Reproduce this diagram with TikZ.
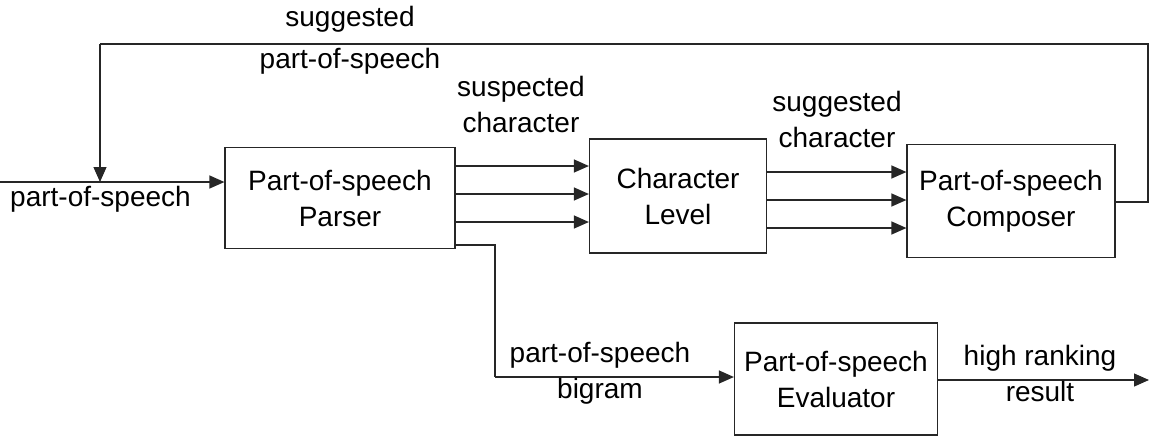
\documentclass[tikz,border=0pt]{standalone}
\usepackage{fontspec}
\setmainfont{Liberation Sans}
\usetikzlibrary{arrows.meta}
\begin{document}
\begin{tikzpicture}[x=1pt,y=-1pt,
  every node/.style={font=\fontsize{28}{36}\selectfont, inner sep=0pt},
  block/.style={draw=black!85, line width=1.2pt, align=center},
  lbl/.style={align=center},
  wire/.style={draw=black!85, line width=1.2pt},
  arr/.style={wire, -{Triangle[length=15pt,width=13pt]}}]
\useasboundingbox (0,0) rectangle (1149,442);

% blocks
\node[block, minimum width=230pt, minimum height=101pt] (parser) at (340,198) {Part-of-speech\\Parser};
\node[block, minimum width=177pt, minimum height=114pt] (char) at (678,196) {Character\\Level};
\node[block, minimum width=208pt, minimum height=113pt] (comp) at (1011,201) {Part-of-speech\\Composer};
\node[block, minimum width=203pt, minimum height=112pt] (eval) at (836,379) {Part-of-speech\\Evaluator};

% parser to character level
\foreach \y in {166,194,222}
  \draw[arr] (parser.east |- 0,\y) -- (char.west |- 0,\y);
% character level to composer
\foreach \y in {172,200,228}
  \draw[arr] (char.east |- 0,\y) -- (comp.west |- 0,\y);

% input
\coordinate (in) at (0,182);
\draw[arr] (in) -- (parser.west |- in);
\node[lbl, anchor=north west] (inlbl) at (10,186) {part-of-speech};

% feedback loop from composer back to the input
\coordinate (fbR) at (1148,44);
\coordinate (fbL) at (100,44);
\coordinate (fbT) at (100,182);
\draw[wire] (comp.east |- 0,202) -- (fbR |- 0,202) -- (fbR) -- (fbL);
\draw[arr] (fbL) -- (fbT);
\node[lbl] (fblbl) at (350,40) {suggested\\[6pt]part-of-speech};

% labels over the character links
\node[lbl] (suspect) at (521,104) {suspected\\character};
\node[lbl] (suggest) at (837,119) {suggested\\character};

% bigram route to evaluator
\coordinate (bgA) at (495,245);
\coordinate (bgB) at (495,377);
\draw[wire] (parser.east |- bgA) -- (bgA) -- (bgB);
\draw[arr] (bgB) -- (eval.west |- bgB);
\node[lbl] (bglbl) at (600,373) {part-of-speech\\bigram};

% output
\coordinate (out) at (1149,380);
\draw[arr] (eval.east |- out) -- (out);
\node[lbl] (outlbl) at (1040,373) {high ranking\\result};
\end{tikzpicture}
\end{document}
